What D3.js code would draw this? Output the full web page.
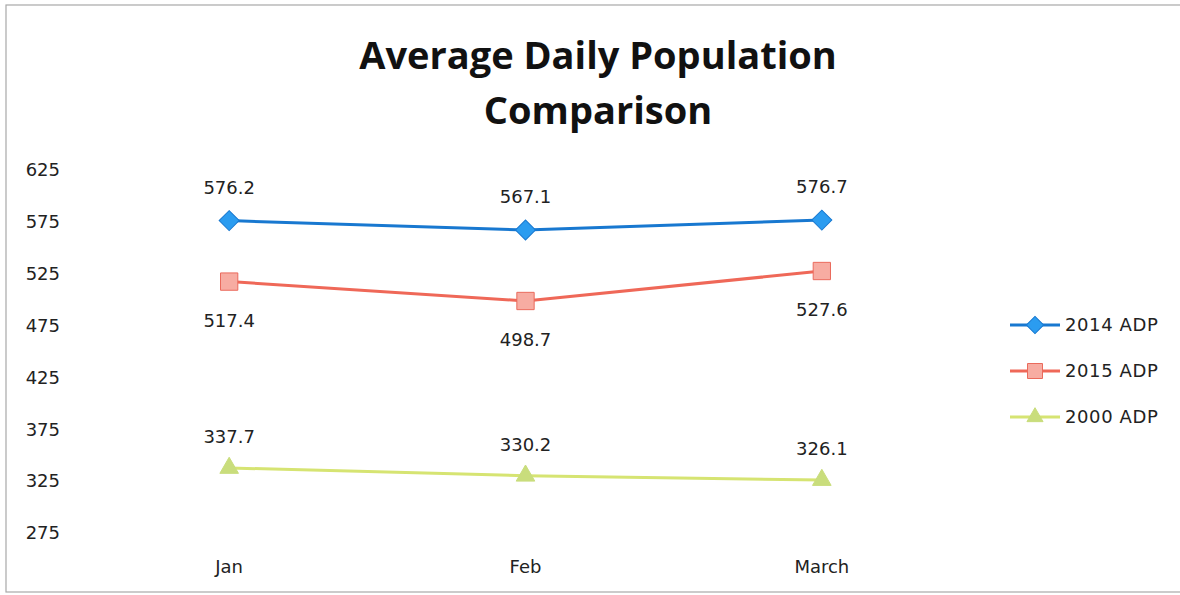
<!DOCTYPE html>
<html>
<head>
<meta charset="utf-8">
<script src="https://cdn.jsdelivr.net/npm/d3@7"></script>
<style>
  body { margin: 0; background: #fff; }
  svg text { font-family: "DejaVu Sans", sans-serif; fill: #222; }
  svg text.title { font-family: "Open Sans", sans-serif; fill: #111; }
</style>
</head>
<body>
<div id="chart"></div>
<script>
var months = ['Jan', 'Feb', 'March'];
var yTicks = [275, 325, 375, 425, 475, 525, 575, 625];
var adp2014 = [576.2, 567.1, 576.7];
var adp2015 = [517.4, 498.7, 527.6];
var adp2000 = [337.7, 330.2, 326.1];
var seriesNames = ['2014 ADP', '2015 ADP', '2000 ADP'];

var width = 1180,
  height = 595;

var svg = d3.select('#chart')
  .append('svg')
  .attr('width', width)
  .attr('height', height);

// scanned page frame
svg.append('rect')
  .attr('x', 6).attr('y', 5)
  .attr('width', 1190).attr('height', 587)
  .attr('fill', 'none')
  .attr('stroke', '#a8a8a8')
  .attr('stroke-width', 1.2);

// title
var title = svg.append('text')
  .attr('class', 'title')
  .attr('text-anchor', 'middle')
  .attr('font-weight', 700)
  .attr('font-size', 38);
title.append('tspan').attr('x', 598).attr('y', 69).text('Average Daily Population');
title.append('tspan').attr('x', 598).attr('y', 124).text('Comparison');

var x = d3.scalePoint()
  .domain(months)
  .range([81, 970])
  .padding(0.5);

var y = d3.scaleLinear()
  .domain([275, 625])
  .range([533, 170]);

// y tick labels
svg.append('g')
  .selectAll('text')
  .data(yTicks)
  .join('text')
  .attr('x', 60)
  .attr('y', function(d) { return y(d); })
  .attr('dy', '0.35em')
  .attr('text-anchor', 'end')
  .attr('font-size', 18)
  .text(function(d) { return d; });

// x labels
svg.append('g')
  .selectAll('text')
  .data(months)
  .join('text')
  .attr('x', function(d) { return x(d); })
  .attr('y', 567)
  .attr('dy', '0.35em')
  .attr('text-anchor', 'middle')
  .attr('font-size', 18)
  .text(function(d) { return d; });

var series = [
  { name: seriesNames[0], values: adp2014, line: '#1878d0', fill: '#2b9cf0', stroke: '#1878d0', shape: d3.symbolSquare, size: 200, rot: 45, labelDy: -33 },
  { name: seriesNames[1], values: adp2015, line: '#ef6858', fill: '#f7aca2', stroke: '#ea6a5c', shape: d3.symbolSquare, size: 300, rot: 0, labelDy: 39 },
  { name: seriesNames[2], values: adp2000, line: '#d6e472', fill: '#c9dd7c', stroke: '#c9dd7c', shape: d3.symbolTriangle, size: 150, rot: 0, labelDy: -31 }
];

var line = d3.line()
  .x(function(d, i) { return x(months[i]); })
  .y(function(d) { return y(d); });

series.forEach(function(s) {
  var g = svg.append('g');
  g.append('path')
    .attr('d', line(s.values))
    .attr('fill', 'none')
    .attr('stroke', s.line)
    .attr('stroke-width', 3);

  g.selectAll('path.mark')
    .data(s.values)
    .join('path')
    .attr('class', 'mark')
    .attr('transform', function(d, i) { return 'translate(' + x(months[i]) + ',' + y(d) + ') rotate(' + s.rot + ')'; })
    .attr('d', d3.symbol().type(s.shape).size(s.size))
    .attr('fill', s.fill)
    .attr('stroke', s.stroke)
    .attr('stroke-width', 1);

  g.selectAll('text')
    .data(s.values)
    .join('text')
    .attr('x', function(d, i) { return x(months[i]); })
    .attr('y', function(d) { return y(d) + s.labelDy; })
    .attr('dy', '0.35em')
    .attr('text-anchor', 'middle')
    .attr('font-size', 18)
    .text(function(d) { return d.toFixed(1); });
});

// legend
var legend = svg.append('g')
  .selectAll('g')
  .data(series)
  .join('g')
  .attr('transform', function(d, i) { return 'translate(1010,' + (325 + i * 46) + ')'; });

legend.append('line')
  .attr('x1', 0).attr('x2', 50)
  .attr('stroke', function(d) { return d.line; })
  .attr('stroke-width', 3);

legend.append('path')
  .attr('transform', function(d) { return 'translate(25,0) rotate(' + d.rot + ')'; })
  .attr('d', function(d) { return d3.symbol().type(d.shape).size(d.size * 0.75)(); })
  .attr('fill', function(d) { return d.fill; })
  .attr('stroke', function(d) { return d.stroke; });

legend.append('text')
  .attr('x', 55)
  .attr('dy', '0.35em')
  .attr('font-size', 18)
  .attr('letter-spacing', 0.6)
  .text(function(d) { return d.name; });
</script>
</body>
</html>
